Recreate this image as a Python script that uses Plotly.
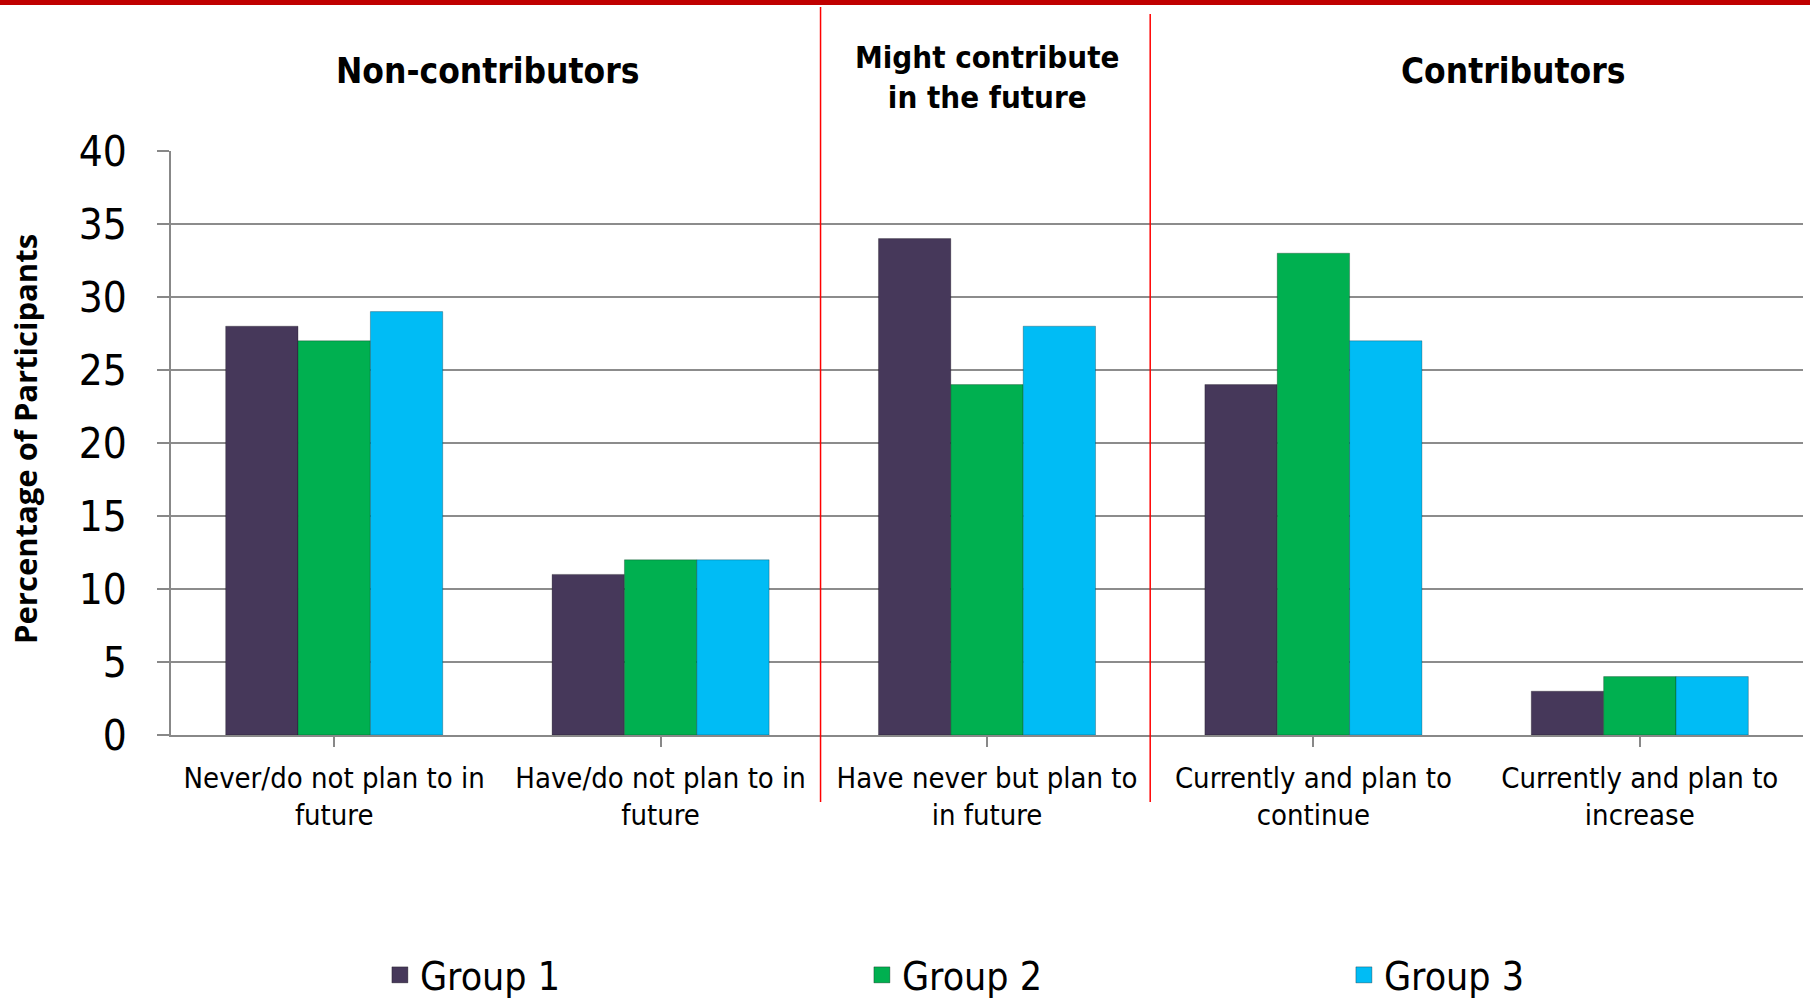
import plotly.graph_objects as go

categories = [
    "Never/do not plan to in<br>future",
    "Have/do not plan to in<br>future",
    "Have never but plan to<br>in future",
    "Currently and plan to<br>continue",
    "Currently and plan to<br>increase",
]
group1 = [28, 11, 34, 24, 3]
group2 = [27, 12, 24, 33, 4]
group3 = [29, 12, 28, 27, 4]
series_names = ["Group 1", "Group 2", "Group 3"]
series_colors = ["#46385A", "#00B050", "#00BCF5"]
section_labels = ["<b>Non-contributors</b>", "<b>Might contribute<br>in the future</b>", "<b>Contributors</b>"]
section_x = [0.47, 2.0, 3.61]
y_ticks = [0, 5, 10, 15, 20, 25, 30, 35, 40]

FONT = "Liberation Sans Narrow, DejaVu Sans Condensed, Noto Sans, sans-serif"

fig = go.Figure()
for name, vals, col in zip(series_names, [group1, group2, group3], series_colors):
    fig.add_trace(go.Bar(
        x=list(range(len(categories))), y=vals, name=name, showlegend=False,
        marker=dict(color=col, line=dict(color="rgba(0,0,0,0.25)", width=1)),
    ))
# legend entries with larger square symbols
for name, col in zip(series_names, series_colors):
    fig.add_trace(go.Scatter(
        x=[None], y=[None], mode="markers", name=name,
        marker=dict(symbol="square", size=22, color=col, line=dict(color="rgba(0,0,0,0.3)", width=1)),
    ))

fig.update_layout(
    width=1810, height=998,
    paper_bgcolor="white", plot_bgcolor="white",
    margin=dict(l=171, r=7, t=151, b=263, autoexpand=False),
    barmode="group", bargap=0.335, bargroupgap=0.0,
    font=dict(family=FONT, color="black"),
    showlegend=True,
    legend=dict(
        orientation="h", x=0.128, xanchor="left", y=-0.411, yanchor="middle",
        font=dict(size=39, family=FONT), entrywidth=437, entrywidthmode="pixels",
        itemsizing="trace",
    ),
    xaxis=dict(
        tickmode="array", tickvals=list(range(len(categories))), ticktext=categories,
        range=[-0.5, 4.5], showgrid=False, showline=True, linecolor="#888888", linewidth=1.5,
        ticks="outside", ticklen=10, tickcolor="#888888", tickwidth=1.5, tickson="boundaries",
        tickfont=dict(size=29, family=FONT), zeroline=False, ticklabelstandoff=6,
    ),
    yaxis=dict(
        range=[0, 40], tickvals=y_ticks, showgrid=True, gridcolor="#8C8C8C", gridwidth=1.5,
        showline=True, linecolor="#888888", linewidth=1.5,
        ticks="outside", ticklen=12, tickcolor="#888888", tickwidth=1.5,
        tickfont=dict(size=42, family=FONT), zeroline=False, ticklabelstandoff=22,
    ),
)

# y-axis title as rotated annotation
fig.add_annotation(x=(25 - 171) / 1632, y=0.507, xref="paper", yref="paper",
                   text="<b>Percentage of Participants</b>", textangle=-90, showarrow=False,
                   font=dict(size=31, family="Open Sans, sans-serif", color="black"),
                   xanchor="center", yanchor="middle")

# header annotations
header_sizes = [35, 31, 35]
for txt, xv, fs in zip(section_labels, section_x, header_sizes):
    fig.add_annotation(x=xv, y=(735 - 71) / 584 if "<br>" not in txt else (735 - 77) / 584,
                       xref="x", yref="paper", text=txt, showarrow=False,
                       font=dict(size=fs, family=FONT, color="black"),
                       xanchor="center", yanchor="middle")

# red separator lines
fig.add_shape(type="line", xref="x", yref="paper", x0=1.49, x1=1.49,
              y0=(735 - 802) / 584, y1=(735 - 7) / 584, line=dict(color="#FF0000", width=1.5))
fig.add_shape(type="line", xref="x", yref="paper", x0=2.5, x1=2.5,
              y0=(735 - 802) / 584, y1=(735 - 14) / 584, line=dict(color="#FF0000", width=1.5))
# top red band
fig.add_shape(type="rect", xref="paper", yref="paper", x0=-0.2, x1=1.1,
              y0=(735 - 5) / 584, y1=(735 + 5) / 584, line=dict(width=0), fillcolor="#C00000")

fig.write_html("out.html", config={"displayModeBar": False},
               post_script="document.body.style.margin='0px';")
